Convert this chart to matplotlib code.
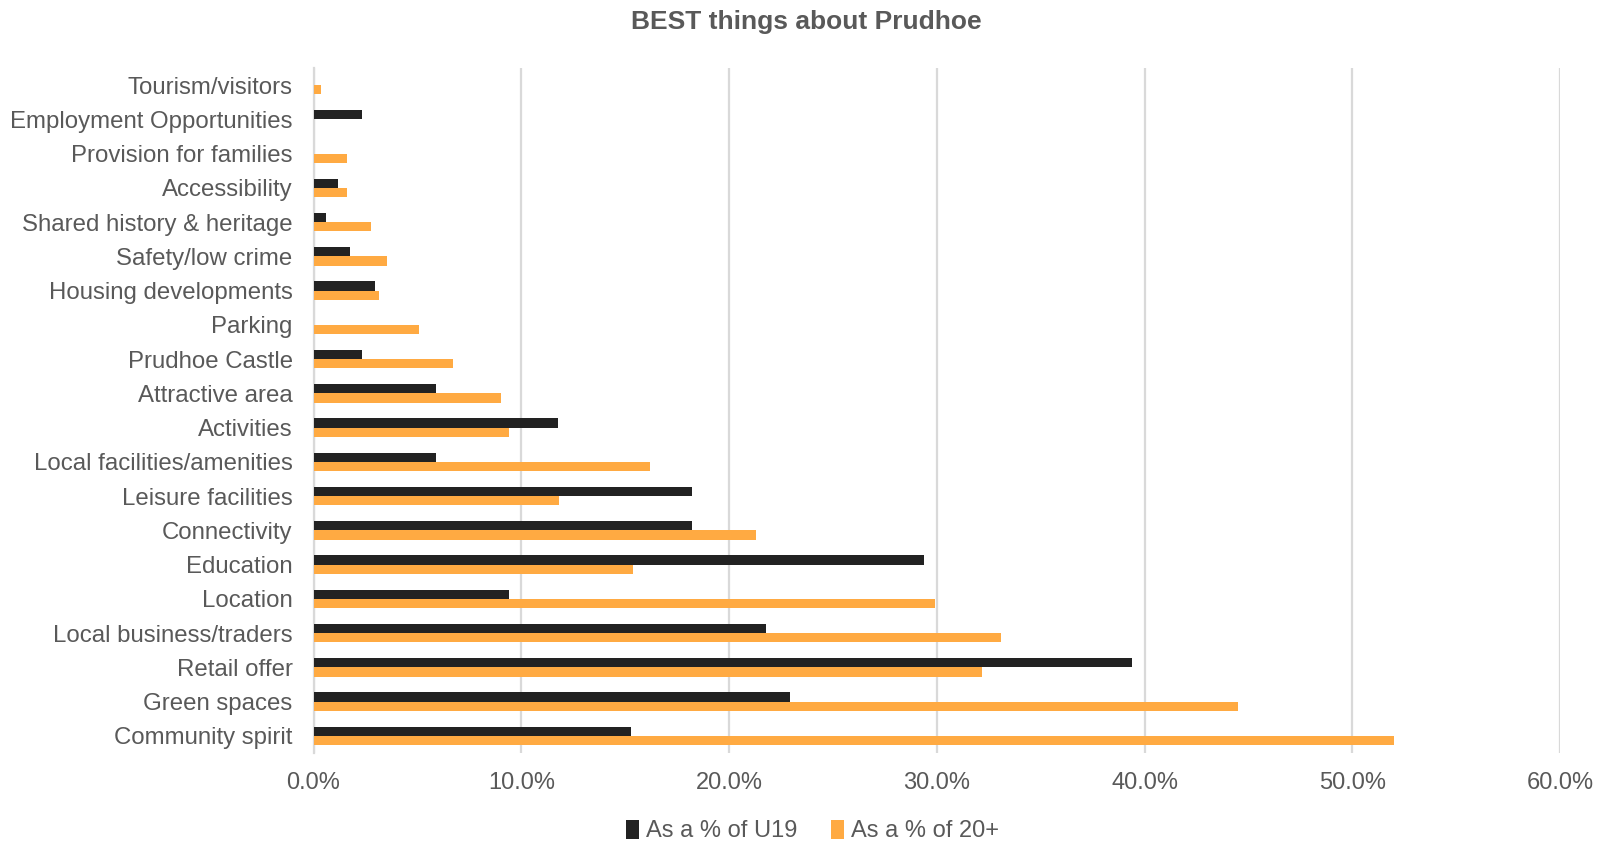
import matplotlib
matplotlib.use("Agg")
import matplotlib.pyplot as plt
import numpy as np

categories = [
    "Tourism/visitors", "Employment Opportunities", "Provision for families",
    "Accessibility", "Shared history & heritage", "Safety/low crime",
    "Housing developments", "Parking", "Prudhoe Castle", "Attractive area",
    "Activities", "Local facilities/amenities", "Leisure facilities",
    "Connectivity", "Education", "Location", "Local business/traders",
    "Retail offer", "Green spaces", "Community spirit",
]
u19 = [0.0, 2.35, 0.0, 1.18, 0.59, 1.76, 2.94, 0.0, 2.35, 5.88,
       11.76, 5.88, 18.24, 18.24, 29.41, 9.41, 21.76, 39.41, 22.94, 15.29]
over20 = [0.36, 0.0, 1.6, 1.6, 2.77, 3.54, 3.15, 5.08, 6.7, 9.03,
          9.4, 16.2, 11.8, 21.3, 15.4, 29.9, 33.1, 32.2, 44.5, 52.0]
xticks = [0, 10, 20, 30, 40, 50, 60]

DARK = "#222222"
ORANGE = "#FFAA42"
GRID = "#D9D9D9"
TEXT = "#595959"

plt.rcParams["font.family"] = ["Liberation Sans", "DejaVu Sans"]

fig = plt.figure(figsize=(16.12, 8.43), dpi=100)
ax = fig.add_axes([313.5 / 1612, 1 - 753 / 843, (1560 - 313.5) / 1612, (753 - 68) / 843])

y = np.arange(len(categories))
h = 0.27
ax.barh(y - h / 2, u19, height=h, color=DARK, label="As a % of U19", zorder=3)
ax.barh(y + h / 2, over20, height=h, color=ORANGE, label="As a % of 20+", zorder=3)

ax.set_ylim(len(categories) - 0.5, -0.5)
ax.set_yticks(y)
ax.set_yticklabels(categories, fontsize=17.3, color=TEXT)
ax.set_xlim(0, 60)
ax.set_xticks(xticks)
ax.set_xticklabels([f"{v:.1f}%" for v in xticks], fontsize=17, color=TEXT)
ax.tick_params(axis="y", length=0, pad=15)
ax.tick_params(axis="x", length=0, pad=14)

ax.grid(axis="x", color=GRID, lw=1.6, zorder=0)
for s in ["top", "right", "bottom"]:
    ax.spines[s].set_visible(False)
ax.spines["left"].set_color(GRID)
ax.spines["left"].set_linewidth(1.6)

fig.text(0.5, 1 - 22.5 / 843, "BEST things about Prudhoe", ha="center", va="center",
         fontsize=19, fontweight="bold", color=TEXT)

fig.legend(loc="center", bbox_to_anchor=(0.504, 1 - 831 / 843), ncol=2, frameon=False,
           fontsize=17, labelcolor=TEXT, handlelength=0.55, handleheight=0.9,
           handletextpad=0.3, columnspacing=1.4)

fig.savefig("out.png", dpi=100)
